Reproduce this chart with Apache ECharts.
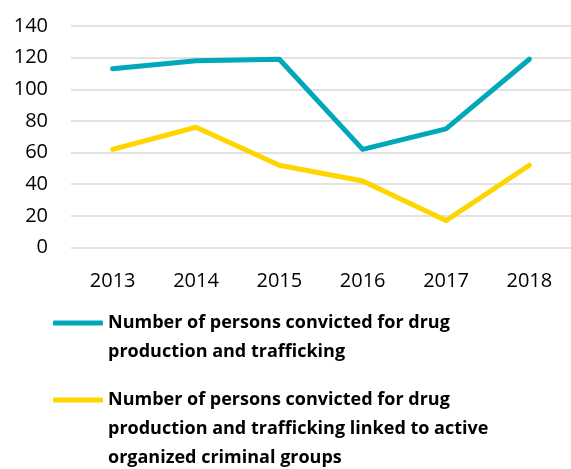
<!DOCTYPE html>
<html>
<head>
<meta charset="utf-8">
<script src="https://cdn.jsdelivr.net/npm/echarts@6/dist/echarts.min.js"></script>
<style>html,body{margin:0;padding:0;background:#fff}#c{width:571px;height:469px}</style>
</head>
<body>
<div id="c"></div>
<script>
const years = ['2013', '2014', '2015', '2016', '2017', '2018'];
const convictedTotal = [113, 118, 119, 62, 75, 119];
const convictedOCG = [62, 76, 52, 42, 17, 52];
const seriesNames = [
  'Number of persons convicted for drug production and trafficking',
  'Number of persons convicted for drug production and trafficking linked to active organized criminal groups'
];
// leading blank lines keep the legend icon level with the first text line
const legendLines = {
  [seriesNames[0]]: '\nNumber of persons convicted for drug\nproduction and trafficking',
  [seriesNames[1]]: '\n\nNumber of persons convicted for drug\nproduction and trafficking linked to active\norganized criminal groups'
};
const colors = ['#00A8BA', '#FFD500'];
const chart = echarts.init(document.getElementById('c'));
const legendText = { fontFamily: 'Open Sans', fontWeight: 'bold', fontSize: 18, color: '#000', lineHeight: 29 };
const legendBase = {
  orient: 'vertical', left: 53, itemWidth: 50, itemHeight: 5, icon: 'roundRect',
  itemGap: 0, padding: 0, textStyle: legendText,
  formatter: n => legendLines[n]
};
chart.setOption({
  animation: false,
  color: colors,
  grid: { left: 71, right: -1, top: 26, bottom: 221.5, containLabel: false },
  legend: [
    Object.assign({}, legendBase, { data: [seriesNames[0]], top: 279.5 }),
    Object.assign({}, legendBase, { data: [seriesNames[1]], top: 327.5 })
  ],
  xAxis: {
    type: 'category', data: years, boundaryGap: true,
    axisLine: { show: false }, axisTick: { show: false },
    axisLabel: { fontFamily: 'Open Sans', fontSize: 20, color: '#000', margin: 24 }
  },
  yAxis: {
    type: 'value', min: 0, max: 140, interval: 20,
    axisLine: { show: false }, axisTick: { show: false },
    splitLine: { lineStyle: { color: '#d9d9d9', width: 1.5 } },
    axisLabel: { fontFamily: 'Open Sans', fontSize: 20, color: '#000', margin: 23 }
  },
  series: [
    { name: seriesNames[0], type: 'line', data: convictedTotal, showSymbol: false, symbol: 'none',
      lineStyle: { width: 5, color: colors[0], cap: 'round', join: 'round' } },
    { name: seriesNames[1], type: 'line', data: convictedOCG, showSymbol: false, symbol: 'none',
      lineStyle: { width: 5, color: colors[1], cap: 'round', join: 'round' } }
  ]
});
</script>
</body>
</html>
